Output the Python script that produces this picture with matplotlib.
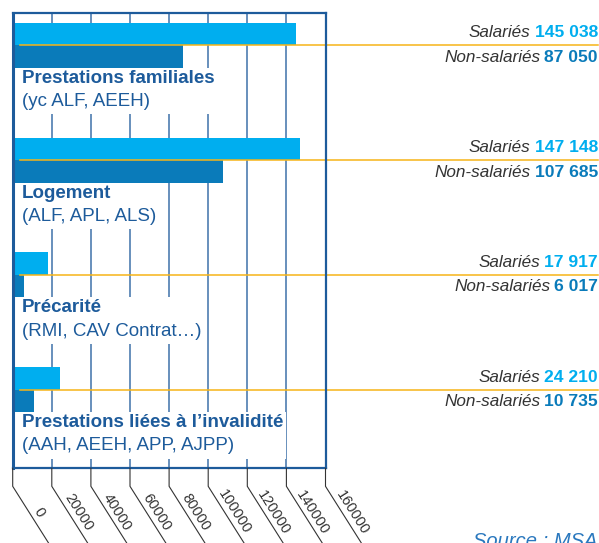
import numpy as np
import matplotlib
matplotlib.use('Agg')  # headless
import matplotlib.pyplot as plt
from matplotlib.lines import Line2D
from matplotlib.patches import Rectangle
from matplotlib.transforms import blended_transform_factory, IdentityTransform

plt.rcParams['font.family'] = ['Liberation Sans', 'DejaVu Sans']

# ── Data ──────────────────────────────────────────────────────────────────────
categories = ["Prestations familiales", "Logement", "Précarité",
              "Prestations liées à l’invalidité"]
details = ["(yc ALF, AEEH)", "(ALF, APL, ALS)", "(RMI, CAV Contrat…)",
           "(AAH, AEEH, APP, AJPP)"]
salaries = [145038, 147148, 17917, 24210]
non_salaries = [87050, 107685, 6017, 10735]
sal_labels = ["145 038", "147 148", "17 917", "24 210"]
nonsal_labels = ["87 050", "107 685", "6 017", "10 735"]
x_ticks = [0, 20000, 40000, 60000, 80000, 100000, 120000, 140000, 160000]

# ── Style ─────────────────────────────────────────────────────────────────────
LIGHT = '#00AEEF'
DARK = '#0A7BBA'
NAVY = '#1D5B9B'
GRID = '#3F71AA'
ORANGE = '#F7B417'
GREY = '#333333'

W, H = 599, 543
fig = plt.figure(figsize=(W / 100, H / 100), dpi=100)
ax_l, ax_r, ax_t, ax_b = 12.7, 325.5, 13.0, 468.3
ax = fig.add_axes([ax_l / W, 1 - ax_b / H, (ax_r - ax_l) / W, (ax_b - ax_t) / H])

pos = np.arange(len(categories))
bar_h = 0.196
ax.barh(pos - bar_h / 2, salaries, height=bar_h, color=LIGHT, zorder=2)
ax.barh(pos + bar_h / 2, non_salaries, height=bar_h, color=DARK, zorder=2)

ax.set_xlim(0, 160000)
ax.set_ylim(3.685, -0.281)
ax.set_xticks(x_ticks)
ax.set_yticks([])
ax.tick_params(axis='x', length=0, labelbottom=False)
ax.grid(axis='x', color=GRID, lw=1.1, zorder=0)
ax.set_axisbelow(True)
for side, sp in ax.spines.items():
    sp.set_color(NAVY)
    sp.set_linewidth(1.6)
    sp.set_zorder(6)
ax.spines['left'].set_linewidth(2.2)

# category labels
name_txt, det_txt = [], []
x_lab = 4800
for p, name, det in zip(pos, categories, details):
    name_txt.append(ax.text(x_lab, p + 0.287, name, fontsize=13.5, fontweight='bold',
                            color=NAVY, va='center', ha='left', zorder=5))
    det_txt.append(ax.text(x_lab, p + 0.49, det, fontsize=13.5,
                           color=NAVY, va='center', ha='left', zorder=5))

# orange separator lines running to the right edge
fig_right = 598 / W
ax_x0, ax_w = ax.get_position().x0, ax.get_position().width
end_frac = (fig_right - ax_x0) / ax_w
lt = blended_transform_factory(ax.transAxes, ax.transData)
for p in pos:
    ax.add_line(Line2D([0.022, end_frac], [p, p], transform=lt, color=ORANGE,
                       lw=1.1, zorder=4, clip_on=False))

# right-hand value labels
rt = blended_transform_factory(fig.transFigure, ax.transData)
num_s, num_n = [], []
for p, s, n in zip(pos, sal_labels, nonsal_labels):
    num_s.append(fig.text(fig_right, p - 0.108, s, transform=rt, fontsize=12.6,
                          fontweight='bold', color=LIGHT, ha='right', va='center'))
    num_n.append(fig.text(fig_right, p + 0.105, n, transform=rt, fontsize=12.6,
                          fontweight='bold', color=DARK, ha='right', va='center'))

fig.text(597 / W, 1 - 532 / H, "Source : MSA", fontsize=14.5, style='italic',
         color='#2A78BE', ha='right', va='top')

fig.canvas.draw()
r = fig.canvas.get_renderer()

# white boxes behind category labels (hide the grid)
for p, t1, t2 in zip(pos, name_txt, det_txt):
    x1 = max(t1.get_window_extent(r).x1, t2.get_window_extent(r).x1) + 3
    xd = ax.transData.inverted().transform((x1, 0))[0]
    ax.add_patch(Rectangle((0, p + bar_h), xd, 0.6 - bar_h, facecolor='white',
                           edgecolor='none', zorder=3))

for p, ts, tn in zip(pos, num_s, num_n):
    for t, word, dy in ((ts, "Salariés", -0.108), (tn, "Non-salariés", 0.105)):
        bx = t.get_window_extent(r).x0 - 4
        fig.text(bx / W, p + dy, word, transform=rt,
                 fontsize=12.3, style='italic', color=GREY, ha='right', va='center')

# slanted tick labels with leader lines
ang = np.deg2rad(57.7)
d = np.array([np.cos(ang), -np.sin(ang)])      # display coords, y up
u = np.array([np.sin(ang), np.cos(ang)])
bt = blended_transform_factory(ax.transData, ax.transAxes)
for v in x_ticks:
    x0, y0 = bt.transform((v, 0))
    bend = np.array([x0, y0 - 18])
    far = bend + d * 120
    fig.add_artist(Line2D([x0, bend[0], far[0]], [y0, bend[1], far[1]],
                          transform=IdentityTransform(), color=GREY, lw=0.8))
    a = bend + d * 36 + u * 1.5
    fig.text(a[0] / W, a[1] / H, f"{v}", fontsize=10.5, color=GREY, rotation=-57.7,
             rotation_mode='anchor', ha='center', va='bottom')

fig.savefig("out.png", dpi=100)
